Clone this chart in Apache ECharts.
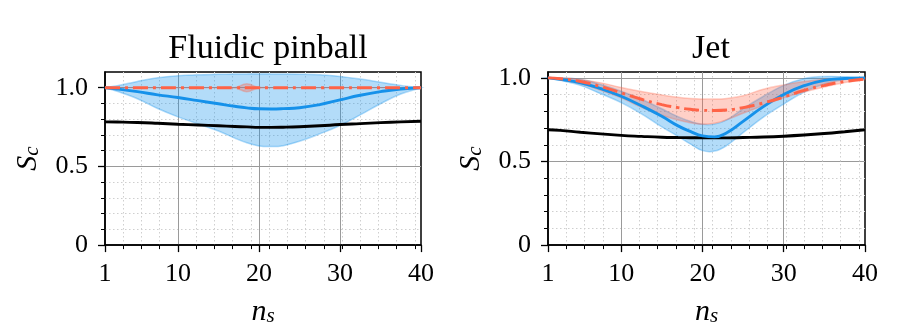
<!DOCTYPE html>
<html>
<head>
<meta charset="utf-8">
<script src="https://cdn.jsdelivr.net/npm/echarts@6/dist/echarts.min.js"></script>
<style>
  html, body { margin: 0; padding: 0; background: #fff; }
  #chart { width: 897px; height: 332px; }
</style>
</head>
<body>
<div id="chart"></div>
<script>
// sample positions along n_s (both panels)
var nS = [1, 2.5, 5, 7.5, 10, 12.5, 15, 17, 18.5, 20, 21.5, 23, 25, 27.5, 30, 32.5, 35, 37.5, 40];

var titles = ['Fluidic pinball', 'Jet'];
var xMajorTicks = [1, 10, 20, 30, 40];
var xMajorGrid = [10, 20, 30];
var xMinorTicks = [3.25, 5.5, 7.75, 12.25, 14.5, 16.75, 19, 21.25, 23.5, 25.75, 28, 30.25, 32.5, 34.75, 37, 39.25];
var yMajorTicks = [0, 0.5, 1.0];
var yMajorGrid = [0.5, 1.0];
var yMinorTicks = [0.1, 0.2, 0.3, 0.4, 0.6, 0.7, 0.8, 0.9];
var yMax = [1.1, 1.035];

// Fluidic pinball
var pinBlack  = [0.783, 0.782, 0.779, 0.774, 0.768, 0.763, 0.758, 0.754, 0.751, 0.748, 0.748, 0.749, 0.752, 0.758, 0.766, 0.772, 0.778, 0.783, 0.787];
var pinBlue   = [1.0, 0.992, 0.975, 0.955, 0.938, 0.918, 0.898, 0.882, 0.872, 0.866, 0.865, 0.867, 0.873, 0.893, 0.923, 0.952, 0.975, 0.992, 1.0];
var pinBlueLo = [1.0, 0.978, 0.930, 0.868, 0.815, 0.770, 0.725, 0.680, 0.650, 0.630, 0.626, 0.632, 0.660, 0.707, 0.760, 0.827, 0.898, 0.960, 1.0];
var pinBlueHi = [1.0, 1.012, 1.040, 1.063, 1.076, 1.082, 1.085, 1.087, 1.088, 1.088, 1.088, 1.087, 1.086, 1.082, 1.072, 1.055, 1.035, 1.015, 1.0];
var pinRed    = [1.0, 1.0, 1.0, 1.0, 1.0, 1.0, 1.0, 1.0, 1.0, 1.0, 1.0, 1.0, 1.0, 1.0, 1.0, 1.0, 1.0, 1.0, 1.0];
var pinRedLo  = [1.0, 1.0, 1.0, 1.0, 1.0, 1.0, 1.0, 1.0, 0.975, 1.0, 1.0, 1.0, 1.0, 1.0, 1.0, 1.0, 1.0, 1.0, 1.0];
var pinRedHi  = [1.0, 1.0, 1.0, 1.0, 1.0, 1.0, 1.0, 1.0, 1.025, 1.0, 1.0, 1.0, 1.0, 1.0, 1.0, 1.0, 1.0, 1.0, 1.0];

// Jet
var jetBlack  = [0.690, 0.686, 0.675, 0.665, 0.656, 0.650, 0.645, 0.643, 0.642, 0.641, 0.641, 0.641, 0.643, 0.646, 0.651, 0.658, 0.667, 0.678, 0.690];
var jetBlue   = [1.0, 0.991, 0.970, 0.935, 0.890, 0.833, 0.770, 0.713, 0.680, 0.653, 0.647, 0.672, 0.740, 0.828, 0.900, 0.953, 0.985, 0.996, 1.0];
var jetBlueLo = [1.0, 0.985, 0.955, 0.905, 0.852, 0.785, 0.707, 0.650, 0.605, 0.565, 0.562, 0.596, 0.672, 0.765, 0.843, 0.915, 0.963, 0.990, 1.0];
var jetBlueHi = [1.0, 1.0, 0.990, 0.960, 0.920, 0.872, 0.815, 0.768, 0.740, 0.722, 0.724, 0.749, 0.816, 0.890, 0.955, 0.995, 1.008, 1.006, 1.0];
var jetRed    = [1.0, 0.995, 0.978, 0.948, 0.910, 0.872, 0.840, 0.822, 0.812, 0.806, 0.805, 0.808, 0.822, 0.850, 0.885, 0.925, 0.955, 0.978, 0.993];
var jetRedLo  = [1.0, 0.990, 0.965, 0.925, 0.880, 0.824, 0.776, 0.748, 0.732, 0.722, 0.728, 0.750, 0.788, 0.835, 0.881, 0.915, 0.945, 0.972, 0.990];
var jetRedHi  = [1.0, 1.0, 0.990, 0.970, 0.942, 0.918, 0.898, 0.884, 0.877, 0.874, 0.873, 0.877, 0.893, 0.932, 0.958, 0.978, 0.992, 0.998, 1.0];

var serif = '"Liberation Serif", "DejaVu Serif", serif';
var blueLine = '#1591ea';
var blueFill = 'rgba(20,145,235,0.32)';
var redLine = '#ff6347';
var redFill = 'rgba(255,99,71,0.3)';

var grids = [
    { left: 105, top: 72, width: 316, height: 180 },
    { left: 548, top: 72, width: 317, height: 180 }
];

function mathName(a, b) {
    return {
        name: '{a|' + a + '}{b|' + b + '}',
        nameTextStyle: {
            rich: {
                a: { fontFamily: serif, fontStyle: 'italic', fontSize: 30, color: '#000', lineHeight: 30, verticalAlign: 'top' },
                b: { fontFamily: serif, fontStyle: 'italic', fontSize: 21, color: '#000', lineHeight: 21, verticalAlign: 'bottom', padding: [14, 0, 0, 0] }
            }
        }
    };
}

function xAxesFor(g) {
    var base = { gridIndex: g, type: 'value', min: 1, max: 40, position: 'bottom' };
    var minor = Object.assign({}, base, {
        axisLine: { show: false, onZero: false },
        axisLabel: { show: false },
        axisTick: { show: true, length: 4, customValues: xMinorTicks, lineStyle: { color: '#000', width: 1 } },
        splitLine: { show: true, lineStyle: { color: '#cfcfcf', width: 1, type: [1.5, 2.5] } }
    });
    var major = Object.assign({}, base, {
        axisLine: { show: false, onZero: false },
        axisLabel: { show: false },
        axisTick: { show: false, customValues: xMajorGrid },
        splitLine: { show: true, lineStyle: { color: '#9a9a9a', width: 1 } }
    });
    var main = Object.assign({}, base, mathName('n', 's'), {
        nameLocation: 'middle',
        nameGap: 45,
        axisLine: { show: true, onZero: false, lineStyle: { color: '#000', width: 1.5 } },
        axisTick: { show: true, length: 7, customValues: xMajorTicks, lineStyle: { color: '#000', width: 1.3 } },
        axisLabel: { show: true, customValues: xMajorTicks, margin: 16, color: '#000', fontFamily: serif, fontSize: 26 },
        splitLine: { show: false }
    });
    return [minor, major, main];
}

function yAxesFor(g) {
    var base = { gridIndex: g, type: 'value', min: 0, max: yMax[g], position: 'left' };
    var minor = Object.assign({}, base, {
        axisLine: { show: false, onZero: false },
        axisLabel: { show: false },
        axisTick: { show: true, length: 4, customValues: yMinorTicks, lineStyle: { color: '#000', width: 1 } },
        splitLine: { show: true, lineStyle: { color: '#cfcfcf', width: 1, type: [1.5, 2.5] } }
    });
    var major = Object.assign({}, base, {
        axisLine: { show: false, onZero: false },
        axisLabel: { show: false },
        axisTick: { show: false, customValues: yMajorGrid },
        splitLine: { show: true, lineStyle: { color: '#9a9a9a', width: 1 } }
    });
    var main = Object.assign({}, base, mathName('S', 'c'), {
        nameLocation: 'middle',
        nameGap: 62,
        axisLine: { show: true, onZero: false, lineStyle: { color: '#000', width: 1.5 } },
        axisTick: { show: true, length: 7, customValues: yMajorTicks, lineStyle: { color: '#000', width: 1.3 } },
        axisLabel: {
            show: true, customValues: yMajorTicks, margin: 17, color: '#000', fontFamily: serif, fontSize: 26,
            formatter: function (v) { return v === 0 ? '0' : v.toFixed(1); }
        },
        splitLine: { show: false }
    });
    return [minor, major, main];
}

function band(g, xs, lo, hi, color) {
    var data = xs.map(function (x, i) { return [x, lo[i], hi[i]]; });
    return {
        type: 'custom',
        xAxisIndex: g * 3 + 2,
        yAxisIndex: g * 3 + 2,
        data: data,
        encode: { x: 0, y: [1, 2] },
        silent: true,
        renderItem: function (params, api) {
            if (params.dataIndex !== 0) return;
            var pts = [];
            for (var i = 0; i < xs.length; i++) pts.push(api.coord([xs[i], hi[i]]));
            for (var j = xs.length - 1; j >= 0; j--) pts.push(api.coord([xs[j], lo[j]]));
            return {
                type: 'polygon',
                shape: { points: pts, smooth: 0.4 },
                style: { fill: color, stroke: color, lineWidth: 1.5 }
            };
        }
    };
}

function line(g, xs, ys, color, dash) {
    return {
        type: 'line',
        xAxisIndex: g * 3 + 2,
        yAxisIndex: g * 3 + 2,
        data: xs.map(function (x, i) { return [x, ys[i]]; }),
        showSymbol: false,
        smooth: 0.5,
        silent: true,
        lineStyle: { color: color, width: 2.9, type: dash || 'solid' }
    };
}

var dashDot = [15, 5, 3, 5];

var option = {
    animation: false,
    backgroundColor: '#fff',
    title: [
        { text: titles[0], left: 263, top: 27, textAlign: 'center', textStyle: { fontFamily: serif, fontSize: 34, fontWeight: 'normal', color: '#000' } },
        { text: titles[1], left: 706, top: 27, textAlign: 'center', textStyle: { fontFamily: serif, fontSize: 34, fontWeight: 'normal', color: '#000' } }
    ],
    grid: grids.map(function (r) {
        return Object.assign({ show: true, borderColor: '#000', borderWidth: 1.5, backgroundColor: 'transparent', containLabel: false }, r);
    }),
    xAxis: xAxesFor(0).concat(xAxesFor(1)),
    yAxis: yAxesFor(0).concat(yAxesFor(1)),
    series: [
        band(0, nS, pinBlueLo, pinBlueHi, blueFill),
        band(0, nS, pinRedLo, pinRedHi, redFill),
        line(0, nS, pinBlack, '#000'),
        line(0, nS, pinBlue, blueLine),
        line(0, nS, pinRed, redLine, dashDot),
        band(1, nS, jetBlueLo, jetBlueHi, blueFill),
        band(1, nS, jetRedLo, jetRedHi, redFill),
        line(1, nS, jetBlack, '#000'),
        line(1, nS, jetBlue, blueLine),
        line(1, nS, jetRed, redLine, dashDot)
    ]
};

var chart = echarts.init(document.getElementById('chart'), null, { renderer: 'canvas' });
chart.setOption(option);
</script>
</body>
</html>
